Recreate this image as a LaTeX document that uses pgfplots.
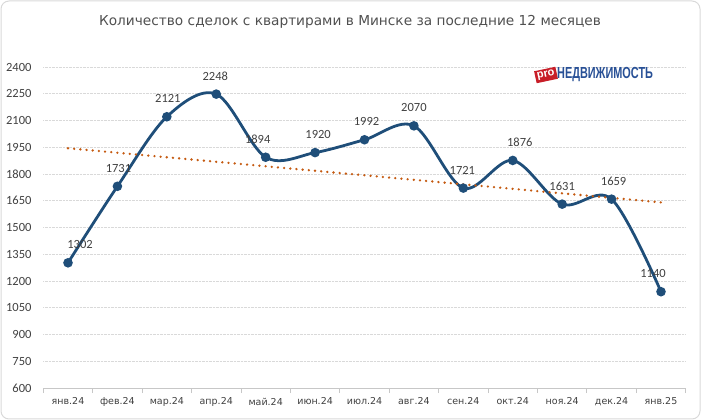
\documentclass[border=0pt]{standalone}
\usepackage{pgfplots}
\pgfplotsset{compat=1.18}
\usepackage{pgfplotstable}
\usepackage{fontspec}
\setmainfont{DejaVu Sans}
\newfontfamily\carlito{Carlito}
\newfontfamily\logofont{Liberation Sans}
\definecolor{lineblue}{RGB}{31,78,121}
\definecolor{trendor}{RGB}{197,90,17}
\definecolor{txt}{RGB}{64,64,64}
\definecolor{ttl}{RGB}{80,80,80}
\definecolor{gridc}{RGB}{217,217,217}
\definecolor{logored}{RGB}{200,30,40}
\definecolor{logoblue}{RGB}{40,80,150}
\pgfplotstableread{
x y dx
0 1302 12
1 1731 1
2 2121 1
3 2248 -1
4 1894 -8
5 1920 3
6 1992 2
7 2070 0
8 1721 -1
9 1876 7
10 1631 0
11 1659 2
12 1140 -8
}\deals
\begin{document}
\begin{tikzpicture}[x=1pt,y=1pt]
\useasboundingbox (0,0) rectangle (701,420);
\draw[gridc, line width=1pt, rounded corners=8pt] (1,1) rectangle (700,419);
\node[ttl, font=\fontsize{13.7}{15}\selectfont] at (350,398) {Количество сделок с квартирами в Минске за последние 12 месяцев};
\begin{axis}[
  at={(43.3pt,32pt)}, anchor=south west,
  scale only axis, width=642.4pt, height=321pt,
  xmin=-0.5, xmax=12.5, ymin=600, ymax=2400,
  ytick={600,750,...,2400},
  xtick={0,...,12},
  xticklabels={янв.24,фев.24,мар.24,апр.24,май.24,июн.24,июл.24,авг.24,сен.24,окт.24,ноя.24,дек.24,янв.25},
  minor xtick={-0.5,0.5,...,12.5},
  axis x line*=bottom, axis y line*=left,
  y axis line style={draw=none},
  x axis line style={draw=gridc!80!gray, line width=0.8pt},
  ytick style={draw=none},
  major x tick style={draw=none},
  minor x tick style={draw=gridc!80!gray, line width=0.8pt},
  tick align=outside,
  minor tick length=5pt,
  ymajorgrids,
  grid style={gridc, densely dotted, line width=0.8pt},
  /pgf/number format/assume math mode=true,
  /pgf/number format/set thousands separator={},
  yticklabel style={font=\carlito\fontsize{12.5}{14}\selectfont, txt, xshift=-4pt},
  xticklabel style={font=\fontsize{9.5}{11}\selectfont, txt, yshift=-2pt},
  clip=false,
]
\addplot[lineblue, line width=2.8pt, smooth, tension=0.55,
  mark=*, mark size=3.3pt, mark options={solid, fill=lineblue, draw=none},
  nodes near coords, point meta=explicit symbolic,
  visualization depends on={\thisrow{dx} \as \dx},
  nodes near coords style={font=\carlito\fontsize{12.5}{14}\selectfont, text=txt, anchor=center, yshift=18pt, xshift=\dx pt},
] table[x=x, y=y, meta=y] {\deals};
\addplot[trendor, line width=2.6pt, line cap=round, dash pattern=on 0pt off 6.2pt] coordinates {(0,1944.5) (12,1640.9)};
\end{axis}
\begin{scope}[shift={(546,345)}]
\node[rotate=12, fill=logored, text=white, inner sep=2pt, font=\logofont\bfseries\fontsize{11}{11}\selectfont] at (0,0) {pro};
\node[anchor=west, text=logoblue, inner sep=0pt, font=\logofont\bfseries\fontsize{16}{16}\selectfont] at (11,0) {\scalebox{0.68}[1]{НЕДВИЖИМОСТЬ}};
\end{scope}
\end{tikzpicture}
\end{document}
